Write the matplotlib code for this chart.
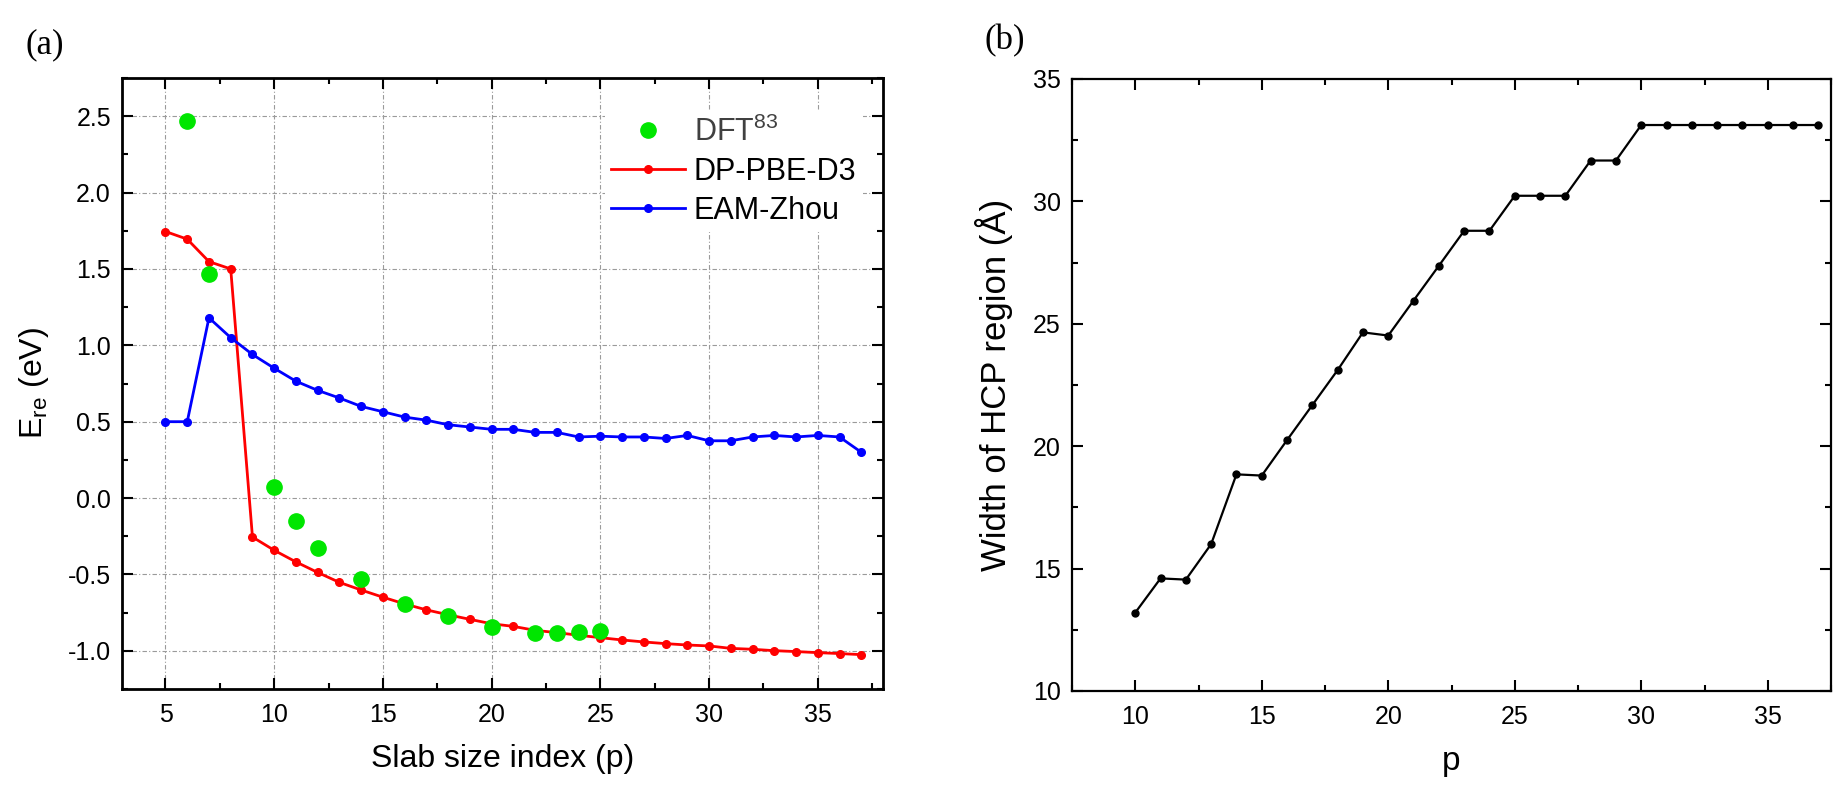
import matplotlib
matplotlib.use('Agg')
import matplotlib.pyplot as plt
from matplotlib.ticker import MultipleLocator

plt.rcParams['font.family'] = ['Liberation Sans', 'DejaVu Sans']
plt.rcParams['axes.unicode_minus'] = False

# (a) energia de reconstruccion
p_dp = [5, 6, 7, 8, 9, 10, 11, 12, 13, 14, 15, 16, 17, 18, 19, 20, 21,
        22, 23, 24, 25, 26, 27, 28, 29, 30, 31, 32, 33, 34, 35, 36, 37]
e_dp = [1.745, 1.695, 1.548, 1.50, -0.255, -0.342, -0.418, -0.487, -0.552,
        -0.602, -0.649, -0.693, -0.732, -0.764, -0.794, -0.823, -0.84,
        -0.866, -0.881, -0.898, -0.914, -0.929, -0.942, -0.953, -0.962,
        -0.968, -0.984, -0.99, -0.999, -1.005, -1.012, -1.018, -1.025]
p_eam = p_dp
e_eam = [0.50, 0.50, 1.18, 1.05, 0.94, 0.85, 0.765, 0.705, 0.655, 0.60,
         0.565, 0.53, 0.51, 0.48, 0.465, 0.45, 0.45, 0.43, 0.43, 0.40,
         0.405, 0.40, 0.40, 0.39, 0.41, 0.375, 0.375, 0.40, 0.41, 0.40,
         0.41, 0.40, 0.30]
p_dft = [6, 7, 10, 11, 12, 14, 16, 18, 20, 22, 23, 24, 25]
e_dft = [2.47, 1.47, 0.07, -0.15, -0.325, -0.53, -0.695, -0.775, -0.845,
         -0.885, -0.885, -0.878, -0.87]

# (b) anchura de la region HCP
p_hcp = [10, 11, 12, 13, 14, 15, 16, 17, 18, 19, 20, 21, 22, 23, 24, 25,
         26, 27, 28, 29, 30, 31, 32, 33, 34, 35, 36, 37]
w_hcp = [13.2, 14.6, 14.55, 16.0, 18.85, 18.8, 20.25, 21.68, 23.11, 24.65,
         24.52, 25.95, 27.37, 28.8, 28.8, 30.23, 30.23, 30.23, 31.67, 31.67,
         33.12, 33.12, 33.12, 33.12, 33.12, 33.12, 33.12, 33.12]

W, H = 1839, 785
fig = plt.figure(figsize=(W / 100, H / 100), dpi=100)

ax1 = fig.add_axes([122 / W, 1 - 689 / H, 761 / W, 611 / H])
ax2 = fig.add_axes([1072 / W, 1 - 691 / H, 759 / W, 612 / H])

# --- panel (a)
ax1.grid(True, color='#9a9a9a', linestyle=(0, (4, 2, 1, 2)), linewidth=0.8)
ax1.set_axisbelow(True)
ax1.plot(p_dp, e_dp, color='red', marker='o', markersize=5.5, linewidth=2,
         label='DP-PBE-D3', zorder=3)
ax1.plot(p_eam, e_eam, color='blue', marker='o', markersize=5.5, linewidth=2,
         label='EAM-Zhou', zorder=3)
ax1.plot(p_dft, e_dft, linestyle='none', marker='o', markersize=11,
         color='#00e600', label='DFT$^{\\mathregular{83}}$', zorder=4)

ax1.set_xlim(3, 38)
ax1.set_ylim(-1.25, 2.75)
ax1.xaxis.set_major_locator(MultipleLocator(5))
ax1.xaxis.set_minor_locator(MultipleLocator(2.5))
ax1.yaxis.set_major_locator(MultipleLocator(0.5))
ax1.yaxis.set_minor_locator(MultipleLocator(0.25))
ax1.set_yticks([-1.0, -0.5, 0.0, 0.5, 1.0, 1.5, 2.0, 2.5])
ax1.set_yticklabels(['-1.0', '-0.5', '0.0', '0.5', '1.0', '1.5', '2.0', '2.5'])
ax1.set_xlabel('Slab size index (p)', fontsize=23, labelpad=12)
ax1.set_ylabel('E$_{\\mathregular{re}}$ (eV)', fontsize=23, labelpad=12)

handles, labels = ax1.get_legend_handles_labels()
order = [2, 0, 1]
leg = ax1.legend([handles[i] for i in order], [labels[i] for i in order],
                 loc='upper left', bbox_to_anchor=(0.635, 0.947),
                 fontsize=22, frameon=True, facecolor='white',
                 edgecolor='none', framealpha=1, borderaxespad=0,
                 borderpad=0.2, handlelength=2.4, handletextpad=0.3,
                 labelspacing=0.3)
leg.get_texts()[0].set_color('#404040')

# --- panel (b)
ax2.plot(p_hcp, w_hcp, color='black', marker='o', markersize=5, linewidth=1.6)
ax2.set_xlim(7.5, 37.5)
ax2.set_ylim(10, 35)
ax2.xaxis.set_major_locator(MultipleLocator(5))
ax2.xaxis.set_minor_locator(MultipleLocator(2.5))
ax2.yaxis.set_major_locator(MultipleLocator(5))
ax2.yaxis.set_minor_locator(MultipleLocator(2.5))
ax2.set_xlabel('p', fontsize=24, labelpad=12)
ax2.set_ylabel('Width of HCP region (\u00c5)', fontsize=25, labelpad=14)

for ax, lw in ((ax1, 2.0), (ax2, 1.6)):
    for s in ax.spines.values():
        s.set_linewidth(lw)
    ax.tick_params(which='both', direction='in', top=True, right=True,
                   labelsize=18, width=1.5)
    ax.tick_params(which='major', length=8)
    ax.tick_params(which='minor', length=4)
    ax.tick_params(axis='x', pad=10)
    ax.tick_params(axis='y', pad=8)

fig.text(45 / W, 1 - 45 / H, '(a)', family='Liberation Serif', fontsize=25,
         ha='center', va='center')
fig.text(1005 / W, 1 - 41 / H, '(b)', family='Liberation Serif', fontsize=25,
         ha='center', va='center')

fig.savefig('out.png', dpi=100)
